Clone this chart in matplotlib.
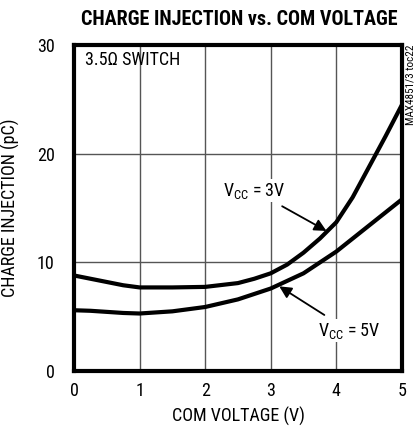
import matplotlib
matplotlib.use("Agg")
import matplotlib.pyplot as plt

plt.rcParams['font.family'] = ['Roboto Condensed', 'DejaVu Sans']

# COM voltage (V)
v_com = [0, 0.25, 0.5, 0.75, 1, 1.5, 2, 2.5, 2.75, 3, 3.25, 3.5, 3.75, 4, 4.25, 4.5, 4.75, 5]
# charge injection (pC)
q_vcc3 = [8.8, 8.5, 8.2, 7.9, 7.7, 7.7, 7.75, 8.1, 8.5, 9.0, 9.8, 10.9, 12.2, 13.7, 16.0, 18.8, 21.6, 24.5]
q_vcc5 = [5.6, 5.55, 5.45, 5.35, 5.3, 5.5, 5.9, 6.6, 7.1, 7.6, 8.3, 9.0, 10.0, 11.0, 12.2, 13.4, 14.6, 15.8]

x_ticks = [0, 1, 2, 3, 4, 5]
y_ticks = [0, 10, 20, 30]

fig = plt.figure(figsize=(4.16, 4.30), dpi=100)
ax = fig.add_axes([0.178, 0.137, 0.788, 0.758])

ax.plot(v_com, q_vcc3, color='black', lw=3, solid_capstyle='round', solid_joinstyle='round')
ax.plot(v_com, q_vcc5, color='black', lw=3, solid_capstyle='round', solid_joinstyle='round')

ax.set_xlim(0, 5)
ax.set_ylim(0, 30)
ax.set_xticks(x_ticks)
ax.set_yticks(y_ticks)
ax.grid(True, color='#555555', lw=1)
ax.tick_params(axis='x', length=0, labelsize=13, pad=8)
ax.tick_params(axis='y', length=0, labelsize=13, pad=14)
for s in ax.spines.values():
    s.set_linewidth(3)

ax.set_xlabel('COM VOLTAGE (V)', fontsize=13, labelpad=5)
ax.set_ylabel('CHARGE INJECTION (pC)', fontsize=13, labelpad=12)
fig.text(0.575, 0.955, 'CHARGE INJECTION vs. COM VOLTAGE', ha='center', va='center',
         fontsize=14.5, fontweight='bold')

ax.text(0.17, 28.6, '3.5Ω SWITCH', fontsize=13, va='center', ha='left')
fig.text(0.987, 0.897, 'MAX4851/3 toc22', rotation=90, fontsize=8, ha='center', va='top')

bbox = dict(facecolor='white', edgecolor='none', pad=1)
ax.annotate('V$_{\\mathregular{CC}}$ = 3V', xy=(3.85, 12.9), xytext=(2.75, 16.6),
            fontsize=13, ha='center', va='center', bbox=bbox,
            arrowprops=dict(arrowstyle='-|>', color='black', lw=1.3,
                            mutation_scale=18, shrinkA=6, shrinkB=0))
ax.annotate('V$_{\\mathregular{CC}}$ = 5V', xy=(3.13, 7.8), xytext=(4.2, 3.7),
            fontsize=13, ha='center', va='center', bbox=bbox,
            arrowprops=dict(arrowstyle='-|>', color='black', lw=1.3,
                            mutation_scale=18, shrinkA=6, shrinkB=0))

fig.savefig('out.png', dpi=100)
